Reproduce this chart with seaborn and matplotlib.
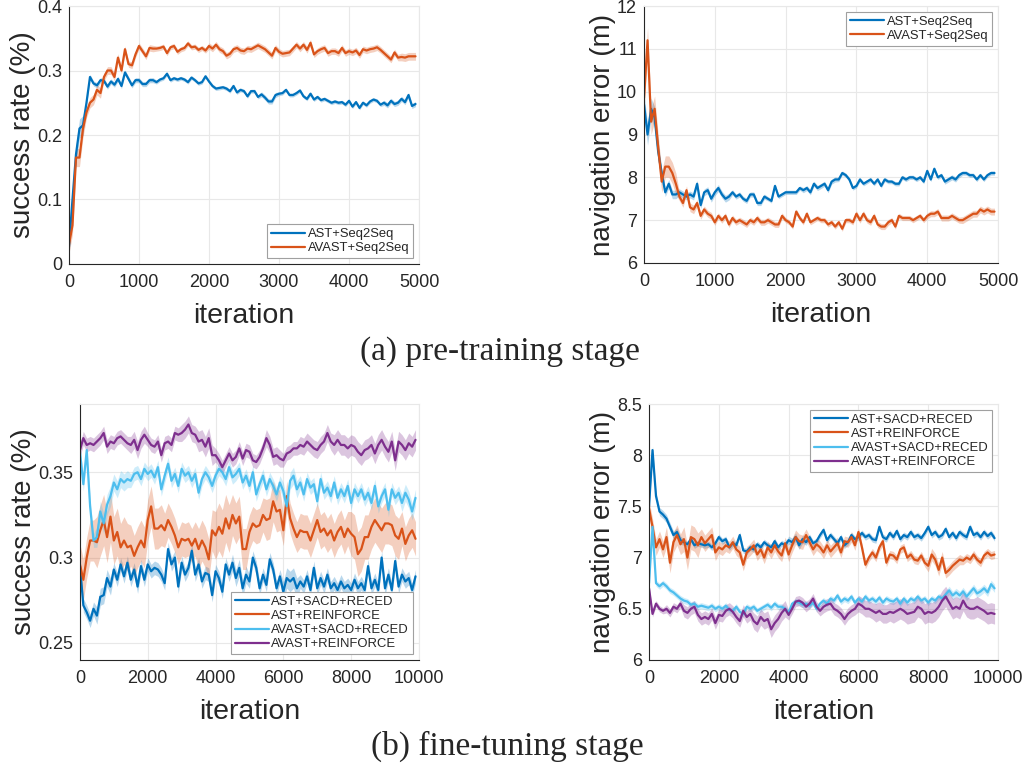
import numpy as np
import pandas as pd
import matplotlib
matplotlib.use('Agg')
import matplotlib.pyplot as plt
from matplotlib.ticker import FuncFormatter
import seaborn as sns

# ---- pre-training stage (every 50 iterations) ----
pre_sr_ast = [0.027, 0.10, 0.17, 0.21, 0.215, 0.25, 0.29, 0.28, 0.277, 0.285,
              0.284, 0.275, 0.283, 0.278, 0.287, 0.276, 0.297, 0.287, 0.277, 0.285,
              0.285, 0.279, 0.279, 0.285, 0.285, 0.282, 0.286, 0.288, 0.295, 0.285,
              0.288, 0.286, 0.288, 0.286, 0.282, 0.289, 0.285, 0.280, 0.282, 0.291,
              0.283, 0.276, 0.272, 0.273, 0.274, 0.272, 0.268, 0.276, 0.266, 0.270,
              0.268, 0.260, 0.268, 0.268, 0.259, 0.263, 0.258, 0.252, 0.252, 0.262,
              0.264, 0.265, 0.270, 0.262, 0.262, 0.265, 0.269, 0.260, 0.256, 0.264,
              0.255, 0.259, 0.254, 0.256, 0.253, 0.250, 0.252, 0.250, 0.251, 0.247,
              0.253, 0.244, 0.251, 0.242, 0.250, 0.246, 0.252, 0.255, 0.253, 0.247,
              0.250, 0.246, 0.253, 0.248, 0.250, 0.256, 0.251, 0.262, 0.245, 0.248]
pre_sr_avast = [0.030, 0.06, 0.165, 0.165, 0.21, 0.235, 0.25, 0.255, 0.27, 0.265,
                0.29, 0.30, 0.30, 0.29, 0.32, 0.30, 0.333, 0.31, 0.308, 0.325,
                0.338, 0.330, 0.322, 0.335, 0.334, 0.334, 0.335, 0.337, 0.327, 0.336,
                0.338, 0.329, 0.333, 0.335, 0.342, 0.336, 0.337, 0.332, 0.335, 0.331,
                0.338, 0.334, 0.340, 0.333, 0.330, 0.323, 0.326, 0.333, 0.335, 0.331,
                0.330, 0.334, 0.333, 0.336, 0.339, 0.336, 0.333, 0.328, 0.323, 0.335,
                0.329, 0.326, 0.327, 0.328, 0.334, 0.340, 0.334, 0.340, 0.332, 0.343,
                0.325, 0.330, 0.333, 0.335, 0.327, 0.330, 0.330, 0.327, 0.335, 0.327,
                0.330, 0.328, 0.331, 0.324, 0.333, 0.331, 0.333, 0.334, 0.336, 0.332,
                0.327, 0.322, 0.317, 0.328, 0.320, 0.321, 0.320, 0.322, 0.322, 0.322]
pre_ne_ast = [9.7, 9.0, 9.6, 9.4, 8.6, 8.1, 7.65, 7.85, 7.6, 7.6,
              7.65, 7.6, 7.55, 7.6, 7.55, 7.85, 7.35, 7.65, 7.7, 7.5,
              7.65, 7.75, 7.6, 7.5, 7.55, 7.65, 7.55, 7.6, 7.5, 7.45,
              7.6, 7.6, 7.4, 7.4, 7.55, 7.5, 7.45, 7.8, 7.55, 7.6,
              7.65, 7.65, 7.65, 7.65, 7.75, 7.7, 7.75, 7.65, 7.85, 7.75,
              7.8, 7.85, 7.7, 7.9, 7.95, 7.95, 8.1, 8.05, 7.95, 7.75,
              7.8, 7.95, 7.85, 7.9, 7.95, 7.85, 7.95, 7.8, 7.95, 7.9,
              7.9, 7.85, 7.85, 8.0, 7.95, 8.0, 8.0, 7.95, 8.0, 7.9,
              8.15, 7.95, 8.2, 8.0, 8.05, 7.9, 7.95, 8.0, 7.95, 8.05,
              8.1, 8.1, 8.05, 8.05, 7.95, 8.05, 7.95, 8.05, 8.1, 8.1]
pre_ne_avast = [9.85, 11.2, 9.3, 9.6, 8.7, 7.9, 8.25, 8.25, 8.1, 7.85,
                7.55, 7.4, 7.7, 7.3, 7.25, 7.4, 7.1, 7.25, 7.15, 7.1,
                6.95, 7.1, 7.0, 7.1, 6.9, 7.05, 6.95, 7.0, 6.95, 6.9,
                7.0, 6.95, 7.05, 6.95, 6.95, 7.0, 6.95, 6.9, 6.9, 7.1,
                7.0, 6.95, 6.85, 7.2, 7.05, 6.95, 7.15, 6.95, 7.0, 7.05,
                7.0, 7.0, 6.9, 6.95, 6.85, 6.95, 6.8, 7.0, 7.0, 6.95,
                7.15, 7.0, 7.15, 7.0, 6.95, 7.1, 6.9, 6.85, 6.85, 6.95,
                7.0, 6.85, 7.1, 7.05, 7.05, 7.05, 7.0, 7.05, 7.1, 7.0,
                7.1, 7.15, 7.15, 7.2, 7.05, 7.05, 7.05, 7.1, 7.05, 7.0,
                7.0, 7.05, 7.1, 7.15, 7.15, 7.25, 7.2, 7.25, 7.2, 7.2]

# band half-widths, one value per 250 iterations
pre_sr_ast_sd = [0.015, 0.004, 0.004, 0.004, 0.004, 0.003, 0.003, 0.003, 0.003, 0.003,
                 0.003, 0.004, 0.003, 0.003, 0.003, 0.003, 0.003, 0.003, 0.004, 0.004]
pre_sr_avast_sd = [0.014, 0.008, 0.006, 0.005, 0.005, 0.004, 0.004, 0.004, 0.005, 0.005,
                   0.005, 0.005, 0.005, 0.005, 0.005, 0.005, 0.005, 0.005, 0.005, 0.006]
pre_ne_ast_sd = [0.25, 0.1, 0.08, 0.08, 0.08, 0.06, 0.06, 0.05, 0.05, 0.06,
                 0.06, 0.05, 0.05, 0.05, 0.05, 0.05, 0.05, 0.06, 0.05, 0.05]
pre_ne_avast_sd = [0.3, 0.25, 0.1, 0.08, 0.07, 0.07, 0.07, 0.07, 0.06, 0.06,
                   0.06, 0.06, 0.07, 0.07, 0.06, 0.06, 0.07, 0.07, 0.08, 0.08]

# ---- fine-tuning stage (every 100 iterations) ----
ft_sr_ast_sacd = [0.295, 0.272, 0.268, 0.263, 0.270, 0.266, 0.277, 0.278, 0.288, 0.283,
                  0.293, 0.287, 0.296, 0.289, 0.297, 0.287, 0.293, 0.283, 0.295, 0.287,
                  0.296, 0.292, 0.294, 0.293, 0.290, 0.285, 0.305, 0.296, 0.300, 0.283,
                  0.297, 0.290, 0.294, 0.304, 0.290, 0.296, 0.286, 0.291, 0.290, 0.278,
                  0.292, 0.288, 0.280, 0.296, 0.290, 0.297, 0.288, 0.294, 0.282, 0.290,
                  0.286, 0.300, 0.294, 0.282, 0.290, 0.284, 0.299, 0.293, 0.282, 0.289,
                  0.280, 0.288, 0.286, 0.288, 0.282, 0.286, 0.283, 0.289, 0.281, 0.294,
                  0.282, 0.288, 0.283, 0.290, 0.282, 0.285, 0.281, 0.286, 0.282, 0.284,
                  0.281, 0.287, 0.282, 0.285, 0.281, 0.295, 0.282, 0.287, 0.281, 0.300,
                  0.282, 0.290, 0.281, 0.298, 0.283, 0.290, 0.286, 0.288, 0.281, 0.289]
ft_sr_ast_rf = [0.296, 0.287, 0.300, 0.310, 0.310, 0.309, 0.316, 0.322, 0.312, 0.324,
                0.310, 0.315, 0.306, 0.310, 0.306, 0.307, 0.301, 0.306, 0.310, 0.306,
                0.322, 0.330, 0.317, 0.317, 0.319, 0.316, 0.322, 0.318, 0.313, 0.306,
                0.311, 0.310, 0.311, 0.307, 0.311, 0.305, 0.310, 0.306, 0.299, 0.316,
                0.313, 0.318, 0.314, 0.323, 0.317, 0.325, 0.320, 0.324, 0.305, 0.305,
                0.315, 0.320, 0.318, 0.319, 0.325, 0.322, 0.323, 0.333, 0.327, 0.328,
                0.316, 0.336, 0.323, 0.317, 0.312, 0.316, 0.315, 0.315, 0.310, 0.316,
                0.322, 0.315, 0.317, 0.313, 0.316, 0.310, 0.315, 0.318, 0.312, 0.317,
                0.314, 0.312, 0.302, 0.305, 0.312, 0.312, 0.318, 0.322, 0.319, 0.316,
                0.320, 0.320, 0.319, 0.313, 0.311, 0.317, 0.308, 0.313, 0.316, 0.311]
ft_sr_avast_sacd = [0.362, 0.343, 0.363, 0.330, 0.310, 0.312, 0.327, 0.320, 0.331, 0.336,
                    0.344, 0.340, 0.346, 0.344, 0.346, 0.345, 0.349, 0.350, 0.346, 0.352,
                    0.349, 0.351, 0.347, 0.353, 0.340, 0.348, 0.355, 0.345, 0.349, 0.342,
                    0.352, 0.348, 0.350, 0.345, 0.349, 0.338, 0.346, 0.350, 0.347, 0.342,
                    0.348, 0.352, 0.350, 0.346, 0.353, 0.347, 0.349, 0.352, 0.344, 0.348,
                    0.342, 0.350, 0.337, 0.343, 0.348, 0.340, 0.346, 0.342, 0.337, 0.344,
                    0.339, 0.330, 0.345, 0.348, 0.340, 0.344, 0.337, 0.346, 0.341, 0.343,
                    0.333, 0.346, 0.338, 0.341, 0.336, 0.344, 0.335, 0.340, 0.336, 0.342,
                    0.332, 0.340, 0.336, 0.340, 0.334, 0.338, 0.332, 0.342, 0.330, 0.336,
                    0.340, 0.328, 0.340, 0.335, 0.338, 0.332, 0.338, 0.334, 0.327, 0.335]
ft_sr_avast_rf = [0.363, 0.370, 0.366, 0.367, 0.366, 0.368, 0.370, 0.373, 0.365, 0.368,
                  0.367, 0.370, 0.371, 0.369, 0.367, 0.366, 0.369, 0.363, 0.369, 0.372,
                  0.369, 0.366, 0.365, 0.368, 0.360, 0.367, 0.368, 0.366, 0.373, 0.372,
                  0.373, 0.375, 0.378, 0.373, 0.372, 0.368, 0.369, 0.365, 0.370, 0.360,
                  0.360, 0.357, 0.353, 0.357, 0.361, 0.357, 0.359, 0.364, 0.358, 0.363,
                  0.362, 0.357, 0.356, 0.359, 0.364, 0.370, 0.366, 0.359, 0.360, 0.358,
                  0.357, 0.361, 0.362, 0.364, 0.364, 0.366, 0.365, 0.368, 0.366, 0.364,
                  0.363, 0.366, 0.368, 0.373, 0.368, 0.366, 0.369, 0.366, 0.366, 0.364,
                  0.366, 0.365, 0.362, 0.360, 0.363, 0.364, 0.366, 0.361, 0.366, 0.369,
                  0.365, 0.362, 0.368, 0.357, 0.368, 0.366, 0.363, 0.367, 0.365, 0.369]

ft_ne_ast_sacd = [7.5, 8.05, 7.6, 7.45, 7.42, 7.38, 7.3, 7.22, 7.25, 7.17,
                  7.15, 7.13, 7.18, 7.12, 7.14, 7.13, 7.12, 7.13, 7.1, 7.14,
                  7.2, 7.16, 7.18, 7.1, 7.14, 7.12, 7.22, 7.07, 7.06, 7.1,
                  7.08, 7.13, 7.1, 7.15, 7.12, 7.1, 7.16, 7.1, 7.14, 7.12,
                  7.17, 7.15, 7.2, 7.12, 7.18, 7.15, 7.2, 7.14, 7.16, 7.22,
                  7.27, 7.17, 7.22, 7.18, 7.14, 7.2, 7.12, 7.15, 7.22, 7.18,
                  7.2, 7.24, 7.2, 7.22, 7.18, 7.17, 7.3, 7.2, 7.18, 7.24,
                  7.2, 7.26, 7.18, 7.22, 7.2, 7.25, 7.2, 7.22, 7.19, 7.24,
                  7.3, 7.22, 7.25, 7.2, 7.22, 7.28, 7.2, 7.24, 7.19, 7.25,
                  7.22, 7.2, 7.3, 7.22, 7.24, 7.2, 7.25, 7.21, 7.24, 7.19]
ft_ne_ast_rf = [7.48, 7.3, 7.1, 7.18, 7.08, 7.2, 6.95, 7.15, 7.22, 7.13,
                7.18, 7.0, 7.2, 7.18, 7.12, 7.2, 7.14, 7.18, 7.22, 7.05,
                7.1, 7.08, 7.12, 7.1, 7.15, 7.08, 7.05, 6.93, 7.05, 7.08,
                7.12, 7.03, 7.08, 7.0, 7.1, 7.05, 7.12, 7.06, 7.02, 7.14,
                7.03, 7.12, 7.2, 7.16, 7.15, 7.22, 7.15, 7.08, 7.13, 7.1,
                7.05, 7.12, 7.06, 7.1, 7.14, 7.05, 7.16, 7.15, 7.2, 7.12,
                7.25, 7.1, 6.93, 7.0, 7.05, 7.0, 7.1, 7.16, 6.95, 7.03,
                7.02, 6.98, 7.08, 7.1, 7.0, 7.03, 6.98, 6.97, 7.02, 6.95,
                6.92, 7.03, 6.98, 6.88, 7.0, 6.85, 6.88, 6.92, 6.95, 6.98,
                6.97, 7.0, 6.98, 7.03, 6.98, 6.95, 7.02, 7.05, 7.02, 7.03]
ft_ne_avast_sacd = [6.75, 7.3, 6.75, 6.72, 6.75, 6.72, 6.68, 6.66, 6.63, 6.6,
                    6.58, 6.57, 6.54, 6.55, 6.52, 6.53, 6.52, 6.51, 6.53, 6.5,
                    6.52, 6.5, 6.53, 6.49, 6.48, 6.52, 6.47, 6.45, 6.52, 6.5,
                    6.52, 6.48, 6.5, 6.52, 6.54, 6.51, 6.55, 6.52, 6.52, 6.5,
                    6.46, 6.55, 6.57, 6.56, 6.54, 6.55, 6.53, 6.56, 6.5, 6.55,
                    6.58, 6.55, 6.6, 6.58, 6.63, 6.57, 6.6, 6.58, 6.62, 6.56,
                    6.6, 6.57, 6.62, 6.58, 6.6, 6.57, 6.61, 6.56, 6.6, 6.58,
                    6.57, 6.6, 6.55, 6.6, 6.56, 6.6, 6.58, 6.62, 6.58, 6.6,
                    6.56, 6.6, 6.58, 6.62, 6.6, 6.64, 6.68, 6.63, 6.66, 6.63,
                    6.67, 6.62, 6.66, 6.7, 6.65, 6.67, 6.7, 6.66, 6.74, 6.7]
ft_ne_avast_rf = [6.7, 6.45, 6.55, 6.5, 6.48, 6.5, 6.46, 6.52, 6.5, 6.55,
                  6.48, 6.46, 6.5, 6.52, 6.44, 6.4, 6.42, 6.4, 6.45, 6.36,
                  6.44, 6.43, 6.48, 6.5, 6.47, 6.42, 6.38, 6.48, 6.42, 6.45,
                  6.38, 6.35, 6.42, 6.38, 6.4, 6.3, 6.36, 6.4, 6.46, 6.5,
                  6.44, 6.5, 6.57, 6.58, 6.56, 6.52, 6.55, 6.6, 6.52, 6.48,
                  6.52, 6.54, 6.55, 6.5, 6.48, 6.45, 6.4, 6.45, 6.48, 6.5,
                  6.55, 6.53, 6.5, 6.5, 6.48, 6.46, 6.48, 6.45, 6.45, 6.47,
                  6.46, 6.48, 6.5, 6.48, 6.45, 6.46, 6.47, 6.52, 6.5, 6.45,
                  6.47, 6.46, 6.48, 6.52, 6.58, 6.62, 6.56, 6.5, 6.52, 6.5,
                  6.58, 6.52, 6.5, 6.5, 6.52, 6.5, 6.48, 6.45, 6.46, 6.45]

# band half-widths, one value per 500 iterations
ft_sr_ast_sacd_sd = [0.004, 0.005, 0.004, 0.004, 0.004, 0.004, 0.004, 0.004, 0.004, 0.005,
                     0.004, 0.004, 0.006, 0.004, 0.004, 0.004, 0.004, 0.004, 0.004, 0.004]
ft_sr_ast_rf_sd = [0.012, 0.015, 0.014, 0.012, 0.012, 0.010, 0.010, 0.012, 0.014, 0.012,
                   0.010, 0.012, 0.009, 0.010, 0.010, 0.010, 0.013, 0.013, 0.012, 0.010]
ft_sr_avast_sacd_sd = [0.004, 0.006, 0.005, 0.004, 0.004, 0.004, 0.004, 0.004, 0.004, 0.004,
                       0.004, 0.004, 0.005, 0.004, 0.004, 0.004, 0.004, 0.004, 0.004, 0.005]
ft_sr_avast_rf_sd = [0.004, 0.004, 0.004, 0.005, 0.004, 0.004, 0.005, 0.006, 0.004, 0.004,
                     0.004, 0.005, 0.004, 0.005, 0.005, 0.006, 0.006, 0.006, 0.006, 0.006]
ft_ne_ast_sacd_sd = [0.04, 0.04, 0.03, 0.03, 0.03, 0.03, 0.03, 0.03, 0.04, 0.03,
                     0.03, 0.03, 0.03, 0.03, 0.03, 0.03, 0.03, 0.03, 0.03, 0.03]
ft_ne_ast_rf_sd = [0.08, 0.10, 0.12, 0.08, 0.06, 0.06, 0.06, 0.06, 0.07, 0.06,
                   0.06, 0.05, 0.04, 0.04, 0.04, 0.04, 0.06, 0.05, 0.04, 0.04]
ft_ne_avast_sacd_sd = [0.03, 0.03, 0.03, 0.03, 0.03, 0.03, 0.03, 0.03, 0.03, 0.03,
                       0.03, 0.03, 0.03, 0.03, 0.03, 0.03, 0.03, 0.04, 0.04, 0.04]
ft_ne_avast_rf_sd = [0.03, 0.04, 0.06, 0.06, 0.06, 0.06, 0.08, 0.08, 0.05, 0.05,
                     0.06, 0.06, 0.08, 0.09, 0.10, 0.10, 0.10, 0.10, 0.10, 0.10]

BLUE = '#0072BD'
ORANGE = '#D95319'
CYAN = '#4DBEEE'
PURPLE = '#7E2F8E'

sns.set_style('whitegrid')
plt.rcParams['font.family'] = ['Liberation Sans', 'DejaVu Sans']

fig = plt.figure(figsize=(10.25, 7.71), dpi=100)


def panel(rect, step, series, ylim, yticks, xmax, ylabel, legend_loc):
    ax = fig.add_axes(rect)
    for name, vals, sd, color in series:
        x = np.arange(len(vals)) * step
        v = np.array(vals)
        s = np.repeat(sd, len(vals) // len(sd))
        ax.fill_between(x, v - s, v + s, color=color, alpha=0.28, linewidth=0)
        df = pd.DataFrame({'iteration': x, 'value': v})
        sns.lineplot(data=df, x='iteration', y='value', ax=ax, color=color,
                     linewidth=1.6, label=name)
    ax.set_xlim(0, xmax)
    ax.set_ylim(*ylim)
    ax.set_xticks(np.arange(0, xmax + 1, xmax // 5))
    ax.set_yticks(yticks)
    ax.yaxis.set_major_formatter(FuncFormatter(lambda v, p: '%g' % round(v, 3)))
    ax.grid(True, color='#e8e8e8', linewidth=0.8)
    ax.set_facecolor('white')
    for sp in ['left', 'bottom']:
        ax.spines[sp].set_color('#262626')
        ax.spines[sp].set_linewidth(0.8)
    for sp in ['top', 'right']:
        ax.spines[sp].set_color('#e8e8e8')
        ax.spines[sp].set_linewidth(0.8)
    ax.tick_params(direction='in', length=4, width=0.8, color='#262626',
                   labelsize=13, labelcolor='#262626')
    ax.tick_params(axis='x', pad=7)
    ax.tick_params(axis='y', pad=5)
    ax.set_xlabel('iteration', fontsize=20.5, color='#262626', labelpad=9)
    ax.set_ylabel(ylabel, fontsize=20, color='#262626', labelpad=1)
    leg = ax.legend(loc=legend_loc, fontsize=9.4, frameon=True, fancybox=False,
                    framealpha=1, edgecolor='#a0a0a0', borderpad=0.3,
                    labelspacing=0.15, handlelength=2.6, handletextpad=0.2,
                    borderaxespad=0.45)
    leg.get_frame().set_linewidth(0.8)
    return ax


panel([0.0673, 0.6576, 0.3415, 0.3346], 50,
      [('AST+Seq2Seq', pre_sr_ast, pre_sr_ast_sd, BLUE),
       ('AVAST+Seq2Seq', pre_sr_avast, pre_sr_avast_sd, ORANGE)],
      (0, 0.4), [0, 0.1, 0.2, 0.3, 0.4], 5000, 'success rate (%)', 'lower right')

panel([0.6283, 0.6589, 0.3454, 0.3333], 50,
      [('AST+Seq2Seq', pre_ne_ast, pre_ne_ast_sd, BLUE),
       ('AVAST+Seq2Seq', pre_ne_avast, pre_ne_avast_sd, ORANGE)],
      (6, 12), [6, 7, 8, 9, 10, 11, 12], 5000, 'navigation error (m)', 'upper right')

panel([0.078, 0.144, 0.3307, 0.332], 100,
      [('AST+SACD+RECED', ft_sr_ast_sacd, ft_sr_ast_sacd_sd, BLUE),
       ('AST+REINFORCE', ft_sr_ast_rf, ft_sr_ast_rf_sd, ORANGE),
       ('AVAST+SACD+RECED', ft_sr_avast_sacd, ft_sr_avast_sacd_sd, CYAN),
       ('AVAST+REINFORCE', ft_sr_avast_rf, ft_sr_avast_rf_sd, PURPLE)],
      (0.24, 0.39), [0.25, 0.3, 0.35], 10000, 'success rate (%)', 'lower right')

panel([0.6332, 0.144, 0.3405, 0.332], 100,
      [('AST+SACD+RECED', ft_ne_ast_sacd, ft_ne_ast_sacd_sd, BLUE),
       ('AST+REINFORCE', ft_ne_ast_rf, ft_ne_ast_rf_sd, ORANGE),
       ('AVAST+SACD+RECED', ft_ne_avast_sacd, ft_ne_avast_sacd_sd, CYAN),
       ('AVAST+REINFORCE', ft_ne_avast_rf, ft_ne_avast_rf_sd, PURPLE)],
      (6, 8.5), [6, 6.5, 7, 7.5, 8, 8.5], 10000, 'navigation error (m)', 'upper right')

fig.text(500 / 1025, 1 - 352 / 771, '(a) pre-training stage', ha='center', va='center',
         fontsize=24, family=['Liberation Serif', 'DejaVu Serif'])
fig.text(507 / 1025, 1 - 746 / 771, '(b) fine-tuning stage', ha='center', va='center',
         fontsize=24, family=['Liberation Serif', 'DejaVu Serif'])

fig.savefig('out.png', dpi=100)
